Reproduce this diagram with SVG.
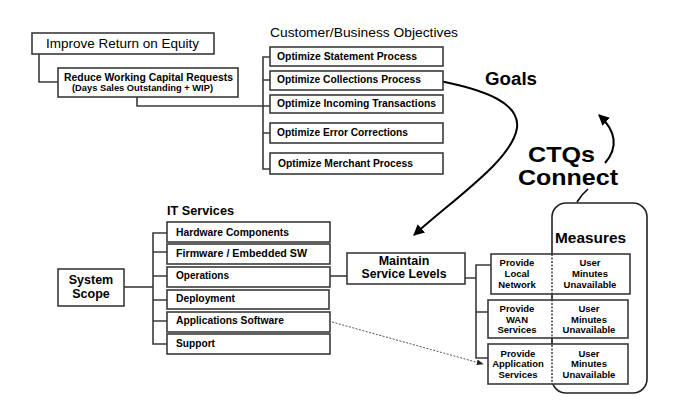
<svg xmlns="http://www.w3.org/2000/svg" width="675" height="411" viewBox="0 0 675 411">
<defs>
<style>
.box{fill:#fff;stroke:#3a3a3a;stroke-width:1.6}
.ln{fill:none;stroke:#3a3a3a;stroke-width:1.6}
.t{font-family:"Liberation Sans",Arial,sans-serif;fill:#000}
.b{font-weight:bold}
.s11{font-size:11px}
.s9{font-size:9.5px}
.c{text-anchor:middle}
</style>
<marker id="ah" viewBox="0 0 10 10" refX="9" refY="5" markerWidth="5.5" markerHeight="5.5" orient="auto"><path d="M0,0 L10,5 L0,10 z" fill="#000"/></marker>
<marker id="ah2" viewBox="0 0 10 10" refX="9" refY="5" markerWidth="7" markerHeight="7" orient="auto"><path d="M0,1 L10,5 L0,9 z" fill="#222"/></marker>
</defs>
<rect width="675" height="411" fill="#fff"/>

<g id="connectors">
<path class="ln" d="M39,54 V82 H58"/>
<path class="ln" d="M137,97 V106 H270"/>
<path class="ln" d="M270,57 H263 V169 H270 M263,80 H270 M263,133 H270"/>
<path class="ln" d="M124,287 H153"/>
<path class="ln" d="M167,233 H153 V344 H167 M153,252 H167 M153,276 H167 M153,300 H167 M153,321 H167"/>
<path class="ln" d="M330,276 H347"/>
<path class="ln" d="M465,278 H476 M491,265 H476 V358 H488 M476,312 H488"/>
<path d="M332,322 L483,364" fill="none" stroke="#555" stroke-width="1" stroke-dasharray="2,1.5" marker-end="url(#ah2)"/>
<path d="M440,81 C485,90 520,103 517,128 C512,160 455,198 414,235" fill="none" stroke="#000" stroke-width="2" marker-end="url(#ah)"/>
<path d="M605,163 C618,148 617,132 599,115" fill="none" stroke="#000" stroke-width="2" marker-end="url(#ah)"/>
<path d="M588,189 Q582,194 577,202" fill="none" stroke="#000" stroke-width="1.6"/>
</g>

<g id="improve">
<rect class="box" x="32" y="33" width="182" height="21"/>
<text class="t" x="46" y="48" font-size="13.5" textLength="153" lengthAdjust="spacingAndGlyphs">Improve Return on Equity</text>
</g>
<g id="reduce">
<rect class="box" x="58" y="68" width="180" height="29"/>
<text class="t b" x="64" y="81" font-size="11.5" textLength="169" lengthAdjust="spacingAndGlyphs">Reduce Working Capital Requests</text>
<text class="t b" x="72" y="91" font-size="8.5" textLength="141" lengthAdjust="spacingAndGlyphs">(Days Sales Outstanding + WIP)</text>
</g>

<g id="objectives-title">
<text class="t" x="270" y="37" font-size="13.5" textLength="188" lengthAdjust="spacingAndGlyphs">Customer/Business Objectives</text>
</g>
<g id="obj1">
<rect class="box" x="270" y="47" width="173" height="19"/>
<text class="t b s11" x="277" y="60" textLength="140" lengthAdjust="spacingAndGlyphs">Optimize Statement Process</text>
</g>
<g id="obj2">
<rect class="box" x="270" y="71" width="173" height="19"/>
<text class="t b s11" x="277" y="83" textLength="144" lengthAdjust="spacingAndGlyphs">Optimize Collections Process</text>
</g>
<g id="obj3">
<rect class="box" x="270" y="95" width="173" height="18"/>
<text class="t b s11" x="277" y="107" textLength="159" lengthAdjust="spacingAndGlyphs">Optimize Incoming Transactions</text>
</g>
<g id="obj4">
<rect class="box" x="270" y="123" width="173" height="20"/>
<text class="t b s11" x="277" y="136" textLength="131" lengthAdjust="spacingAndGlyphs">Optimize Error Corrections</text>
</g>
<g id="obj5">
<rect class="box" x="270" y="153" width="173" height="21"/>
<text class="t b s11" x="278" y="167" textLength="135" lengthAdjust="spacingAndGlyphs">Optimize Merchant Process</text>
</g>

<g id="goals"><text class="t b" x="485" y="85" font-size="18" textLength="52" lengthAdjust="spacingAndGlyphs">Goals</text></g>
<g id="ctqs">
<text class="t b" x="528" y="162" font-size="22.5" textLength="67" lengthAdjust="spacingAndGlyphs">CTQs</text>
<text class="t b" x="518" y="185" font-size="22.5" textLength="100" lengthAdjust="spacingAndGlyphs">Connect</text>
</g>

<g id="it-title"><text class="t b" x="167" y="215" font-size="12.5" textLength="67" lengthAdjust="spacingAndGlyphs">IT Services</text></g>
<g id="it1"><rect class="box" x="167" y="222" width="163" height="20"/><text class="t b s11" x="176" y="236" textLength="113" lengthAdjust="spacingAndGlyphs">Hardware Components</text></g>
<g id="it2"><rect class="box" x="167" y="244" width="163" height="20"/><text class="t b s11" x="176" y="257" textLength="131" lengthAdjust="spacingAndGlyphs">Firmware / Embedded SW</text></g>
<g id="it3"><rect class="box" x="167" y="267" width="163" height="20"/><text class="t b s11" x="176" y="279" textLength="53" lengthAdjust="spacingAndGlyphs">Operations</text></g>
<g id="it4"><rect class="box" x="167" y="290" width="162" height="19"/><text class="t b s11" x="176" y="302" textLength="59" lengthAdjust="spacingAndGlyphs">Deployment</text></g>
<g id="it5"><rect class="box" x="167" y="312" width="163" height="20"/><text class="t b s11" x="176" y="324" textLength="108" lengthAdjust="spacingAndGlyphs">Applications Software</text></g>
<g id="it6"><rect class="box" x="167" y="334" width="163" height="20"/><text class="t b s11" x="176" y="347" textLength="39" lengthAdjust="spacingAndGlyphs">Support</text></g>

<g id="system-scope">
<rect class="box" x="58" y="269" width="66" height="37"/>
<text class="t b c" x="91" y="284" font-size="12.5">System</text>
<text class="t b c" x="91" y="298" font-size="12.5">Scope</text>
</g>

<g id="maintain">
<rect class="box" x="347" y="253" width="118" height="31"/>
<text class="t b c" x="404" y="265" font-size="12.5">Maintain</text>
<text class="t b c" x="404" y="278" font-size="12.5" textLength="85" lengthAdjust="spacingAndGlyphs">Service Levels</text>
</g>

<g id="measures">
<rect x="552" y="203" width="95" height="190" rx="14" ry="14" fill="none" stroke="#222" stroke-width="1.6"/>
<text class="t b" x="555" y="243" font-size="15.5" textLength="71" lengthAdjust="spacingAndGlyphs">Measures</text>
</g>

<g id="row1">
<rect class="box" x="491" y="254" width="139" height="40"/>
<text class="t b s9 c" x="517" y="266">Provide</text>
<text class="t b s9 c" x="517" y="277">Local</text>
<text class="t b s9 c" x="517" y="288">Network</text>
<text class="t b s9 c" x="590" y="266">User</text>
<text class="t b s9 c" x="590" y="277">Minutes</text>
<text class="t b s9 c" x="590" y="288">Unavailable</text>
</g>
<g id="row2">
<rect class="box" x="488" y="300" width="140" height="38"/>
<text class="t b s9 c" x="517" y="312">Provide</text>
<text class="t b s9 c" x="517" y="323">WAN</text>
<text class="t b s9 c" x="517" y="333">Services</text>
<text class="t b s9 c" x="589" y="312">User</text>
<text class="t b s9 c" x="589" y="323">Minutes</text>
<text class="t b s9 c" x="589" y="333">Unavailable</text>
</g>
<g id="row3">
<rect class="box" x="488" y="344" width="140" height="40"/>
<text class="t b s9 c" x="518" y="357">Provide</text>
<text class="t b s9 c" x="518" y="367">Application</text>
<text class="t b s9 c" x="518" y="378">Services</text>
<text class="t b s9 c" x="589" y="357">User</text>
<text class="t b s9 c" x="589" y="367">Minutes</text>
<text class="t b s9 c" x="589" y="378">Unavailable</text>
</g>
<path d="M552,254 V384" stroke="#333" stroke-width="1.4" stroke-dasharray="2,1.5" fill="none"/>
</svg>
